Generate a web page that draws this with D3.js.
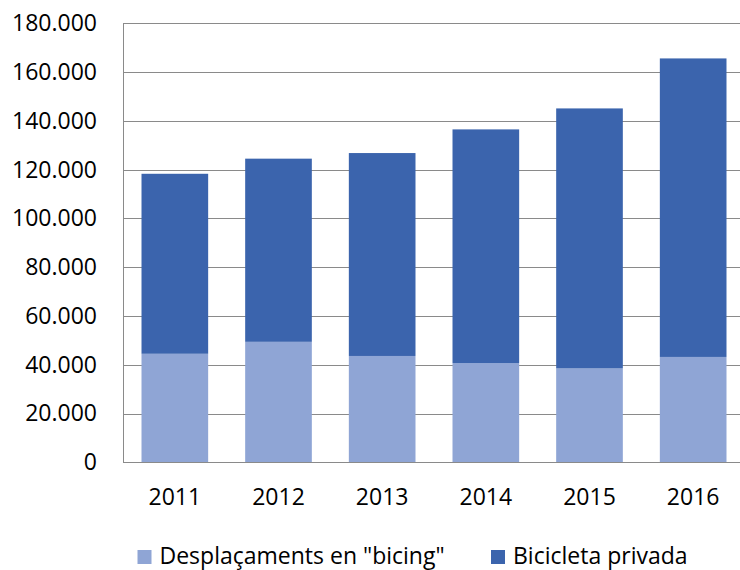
<!DOCTYPE html>
<html>
<head>
<meta charset="utf-8">
<script src="https://cdn.jsdelivr.net/npm/d3@7"></script>
<style>
  html, body { margin: 0; padding: 0; background: #fff; }
  svg { display: block; font-family: "Open Sans", sans-serif; }
</style>
</head>
<body>
<svg id="chart" width="740" height="570"></svg>
<script>
const years = ["2011", "2012", "2013", "2014", "2015", "2016"];
const bicing = [44500, 49400, 43600, 40700, 38500, 43200];
const privada = [73800, 75100, 83200, 95800, 106600, 122400];
const seriesNames = ["Desplaçaments en \"bicing\"", "Bicicleta privada"];
const seriesColors = ["#8FA5D5", "#3B64AD"];
const yTicks = [0, 20000, 40000, 60000, 80000, 100000, 120000, 140000, 160000, 180000];

const svg = d3.select("#chart");
const plotL = 123, plotR = 745, plotT = 23.3, plotB = 462.3;
const fontSize = "23px";

const x = d3.scaleBand().domain(years).range([plotL, plotR]).paddingInner(0.357).paddingOuter(0.1785);
const y = d3.scaleLinear().domain([0, 180000]).range([plotB, plotT]);

const fmt = v => v === 0 ? "0" : d3.format(",")(v).replace(/,/g, ".");

// gridlines
svg.append("g")
  .attr("transform", `translate(${plotL},0)`)
  .call(d3.axisLeft(y).tickValues(yTicks).tickSize(-(plotR - plotL)).tickFormat(""))
  .call(g => g.select(".domain").remove())
  .call(g => g.selectAll(".tick line").attr("stroke", "#8a8a8a").attr("stroke-width", 1)
    .attr("shape-rendering", "crispEdges"));

// stacked data
const rows = years.map((yr, i) => ({ year: yr, bicing: bicing[i], privada: privada[i] }));
const stack = d3.stack().keys(["bicing", "privada"])(rows);

svg.append("g").selectAll("g").data(stack).join("g")
  .attr("fill", (d, i) => seriesColors[i])
  .selectAll("rect").data(d => d).join("rect")
  .attr("x", d => x(d.data.year))
  .attr("width", x.bandwidth())
  .attr("y", d => y(d[1]))
  .attr("height", d => y(d[0]) - y(d[1]));

// y axis labels
svg.append("g")
  .attr("transform", `translate(${plotL},0)`)
  .call(d3.axisLeft(y).tickValues(yTicks).tickSize(0).tickPadding(26).tickFormat(fmt))
  .call(g => g.select(".domain").attr("stroke", "#8a8a8a").attr("shape-rendering", "crispEdges"))
  .call(g => g.selectAll("text").attr("font-family", "Open Sans").attr("font-size", fontSize).attr("fill", "#000"));

// x axis
svg.append("g")
  .attr("transform", `translate(0,${plotB})`)
  .call(d3.axisBottom(x).tickSize(0).tickPadding(26))
  .call(g => g.select(".domain").attr("stroke", "#8a8a8a").attr("shape-rendering", "crispEdges"))
  .call(g => g.selectAll("text").attr("font-family", "Open Sans").attr("font-size", fontSize).attr("fill", "#000"));

// legend
const legendX = [137.5, 491];
const lg = svg.append("g");
seriesNames.forEach((name, i) => {
  lg.append("rect").attr("x", legendX[i]).attr("y", 550).attr("width", 14).attr("height", 14)
    .attr("fill", seriesColors[i]);
  lg.append("text").attr("x", legendX[i] + 22).attr("y", 564)
    .attr("font-family", "Open Sans").attr("font-size", fontSize).attr("fill", "#000")
    .text(name);
});
</script>
</body>
</html>
